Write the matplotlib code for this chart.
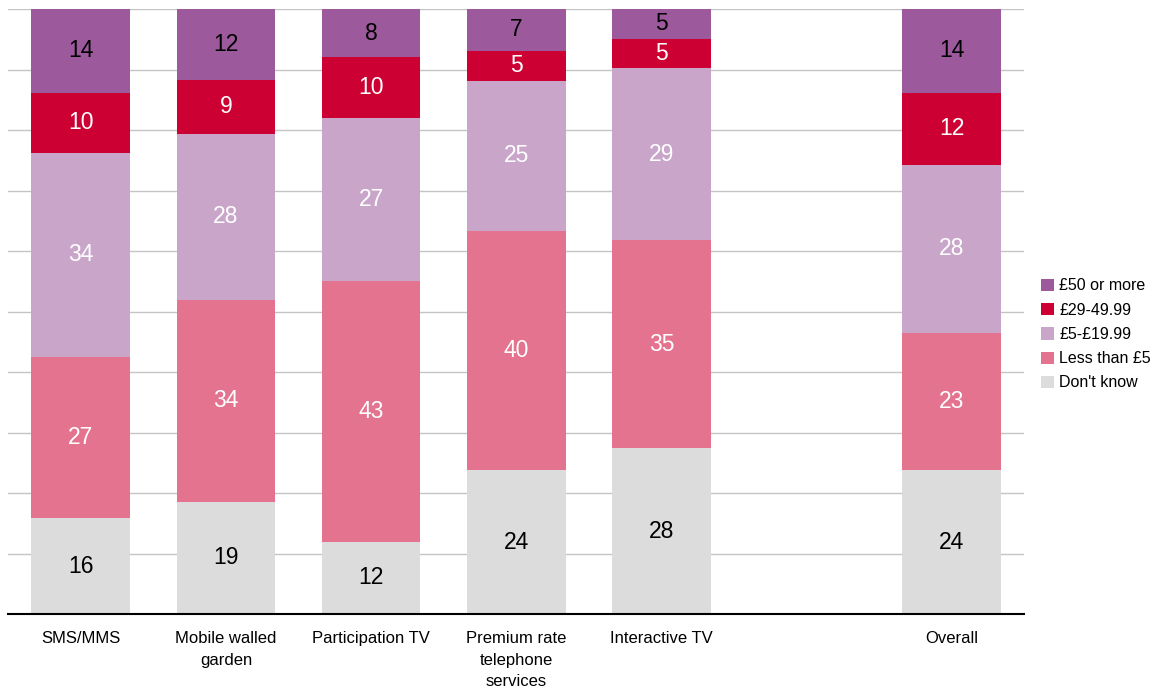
import matplotlib.pyplot as plt
import numpy as np

plt.rcParams['font.family'] = ['Liberation Sans', 'DejaVu Sans']

categories = ["SMS/MMS", "Mobile walled\ngarden", "Participation TV",
              "Premium rate\ntelephone\nservices", "Interactive TV", "Overall"]
positions = [0, 1, 2, 3, 4, 6]   # gap left before "Overall"

series = ["Don't know", "Less than £5", "£5-£19.99", "£29-49.99", "£50 or more"]
dont_know = [16, 19, 12, 24, 28, 24]
less_5 = [27, 34, 43, 40, 35, 23]
five_19 = [34, 28, 27, 25, 29, 28]
t29_49 = [10, 9, 10, 5, 5, 12]
fifty_plus = [14, 12, 8, 7, 5, 14]

colors = ["#DCDCDC", "#E3738F", "#C9A5CA", "#CC0033", "#9C5A9C"]
text_colors = ["black", "white", "white", "white", "black"]

data = np.array([dont_know, less_5, five_19, t29_49, fifty_plus], dtype=float)
share = data / data.sum(axis=0) * 100   # 100% stacked

fig = plt.figure(figsize=(11.64, 6.91), dpi=100)
ax = fig.add_axes([0.007, 0.111, 0.873, 0.876])

bottom = np.zeros(len(categories))
bars = []
for i, name in enumerate(series):
    b = ax.bar(positions, share[i], bottom=bottom, width=0.68,
               color=colors[i], label=name, zorder=2)
    bars.append(b)
    for x, v, h, base in zip(positions, data[i], share[i], bottom):
        ax.text(x, base + h / 2, f"{v:.0f}", ha="center", va="center",
                fontsize=16.5, color=text_colors[i], zorder=3)
    bottom += share[i]

ax.set_xlim(-0.5, 6.5)
ax.set_ylim(0, 100)
ax.set_yticks(np.arange(10, 101, 10))
ax.yaxis.grid(True, color="#C4C4C4", linewidth=1, zorder=0)
ax.set_axisbelow(True)
ax.tick_params(axis="y", left=False, labelleft=False)
ax.set_xticks(positions)
ax.set_xticklabels(categories, fontsize=12, linespacing=1.55)
ax.tick_params(axis="x", length=0, pad=12)
for s in ["top", "right", "left"]:
    ax.spines[s].set_visible(False)
ax.spines["bottom"].set_linewidth(1.5)
ax.spines["bottom"].set_color("black")
ax.spines["bottom"].set_zorder(4)

handles = bars[::-1]
labels = series[::-1]
fig.legend(handles, labels, loc="center left", bbox_to_anchor=(0.882, 0.516),
           frameon=False, fontsize=11.5, handlelength=0.8, handleheight=0.8,
           handletextpad=0.35, labelspacing=0.58)

fig.savefig("out.png", dpi=100)
